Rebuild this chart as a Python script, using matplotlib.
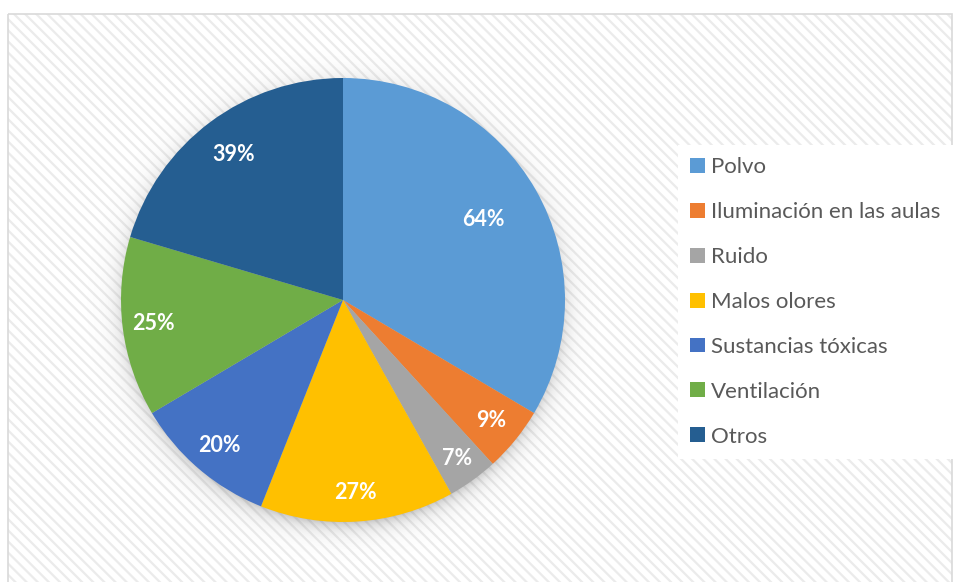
import numpy as np
import matplotlib.pyplot as plt
from matplotlib.patches import Rectangle, Patch

plt.rcParams['font.family'] = ['Lato', 'DejaVu Sans']
plt.rcParams['hatch.linewidth'] = 1.6

# survey data
categorias = ['Polvo', 'Iluminación en las aulas', 'Ruido', 'Malos olores',
              'Sustancias tóxicas', 'Ventilación', 'Otros']
valores = [64, 9, 7, 27, 20, 25, 39]
colores = ['#5B9BD5', '#ED7D31', '#A5A5A5', '#FFC000', '#4472C4', '#70AD47', '#255E91']

# radial position of each percentage label (fraction of radius)
dist_etiquetas = [0.73, 0.86, 0.88, 0.87, 0.86, 0.86, 0.82]

W, H = 954, 582
fig = plt.figure(figsize=(W / 100, H / 100), dpi=100)

# chart area: light diagonal stripes with a thin grey border
bg = fig.add_axes([0, 0, 1, 1])
bg.set_xlim(0, W)
bg.set_ylim(H, 0)
bg.axis('off')
bg.add_patch(Rectangle((8.5, 13.5), 944, 580, facecolor='white',
                       edgecolor='#ebebeb', hatch='\\\\\\', linewidth=0))
bg.add_patch(Rectangle((8.5, 13.5), 944, 580, facecolor='none',
                       edgecolor='#d9d9d9', linewidth=1.2))

# pie axes, 1 unit = 222 px, centered at (343, 300)
R = 222
span = 1.3
cx, cy = 343, 300
ax = fig.add_axes([(cx - span * R) / W, (H - cy - span * R) / H,
                   2 * span * R / W, 2 * span * R / H])

# soft drop shadow around the pie
n = 500
g = np.linspace(-span, span, n)
X, Y = np.meshgrid(g, g)
d = np.hypot(X, Y + 0.025)
alpha = np.where(d > 0.97, 0.38 * np.exp(-(d - 0.97) / 0.04), 0.38)
img = np.zeros((n, n, 4))
img[..., :3] = 0.35
img[..., 3] = alpha
ax.imshow(img, extent=(-span, span, -span, span), origin='lower', zorder=0)

wedges, _ = ax.pie(valores, colors=colores, startangle=90, counterclock=False,
                   radius=1, wedgeprops=dict(linewidth=0))
for w in wedges:
    w.set_zorder(2)

for w, v, r in zip(wedges, valores, dist_etiquetas):
    ang = np.radians((w.theta1 + w.theta2) / 2)
    ax.text(r * np.cos(ang), r * np.sin(ang), f'{v}%', ha='center', va='center',
            color='white', fontsize=15.5, fontweight='bold', zorder=3)

ax.set_xlim(-span, span)
ax.set_ylim(-span, span)
ax.set_aspect('equal')
ax.axis('off')

# legend on a white panel
handles = [Patch(facecolor=c, edgecolor='none') for c in colores]
leg = fig.legend(handles, categorias, loc='upper left',
                 bbox_to_anchor=(678 / W, 1 - 145 / H), frameon=True,
                 fancybox=False, fontsize=16, labelcolor='#595959',
                 handlelength=0.65, handleheight=0.65, handletextpad=0.3,
                 labelspacing=1.12, borderpad=0.55, borderaxespad=0)
leg.get_frame().set_facecolor('white')
leg.get_frame().set_edgecolor('none')
leg.get_frame().set_alpha(1)

fig.savefig('out.png', dpi=100)
